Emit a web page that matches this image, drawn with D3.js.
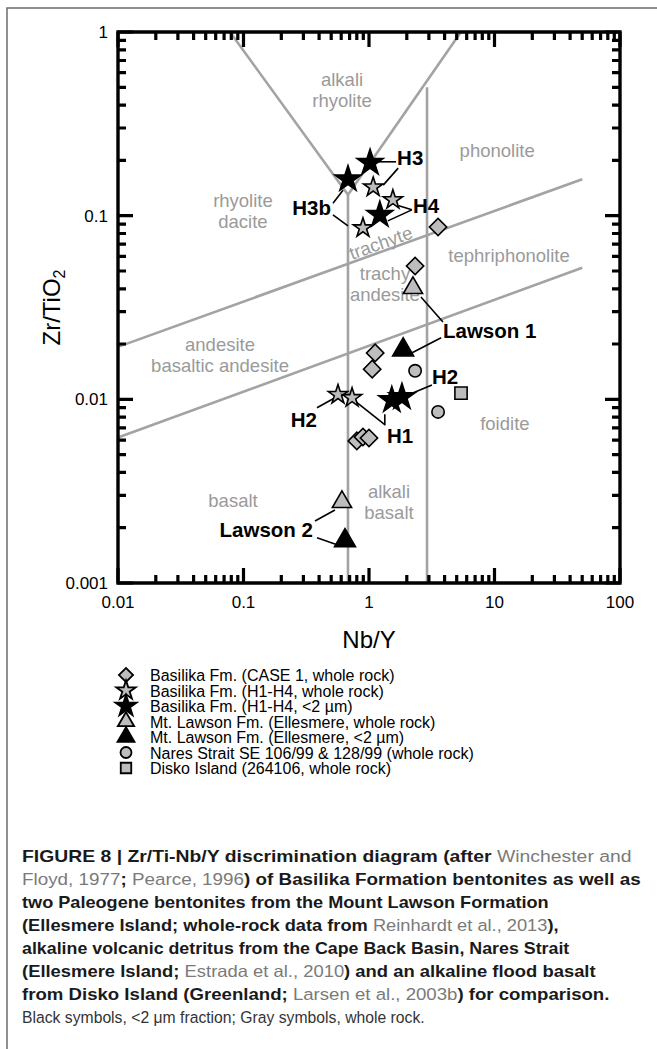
<!DOCTYPE html>
<html>
<head>
<meta charset="utf-8">
<script src="https://cdn.jsdelivr.net/npm/d3@7"></script>
<style>
  body { margin: 0; background: #fff; }
  svg { display: block; font-family: "Liberation Sans", Arial, sans-serif; }
</style>
</head>
<body>
<svg id="fig" width="657" height="1049"></svg>
<script>
// ---- data (Nb/Y, Zr/TiO2) ----
const caseNbY  = [3.55, 2.33, 1.12, 1.06, 0.80, 0.895, 1.0];
const caseZrTi = [0.0868, 0.0532, 0.0179, 0.0146, 0.00594, 0.00624, 0.00616];

const h14WholeId   = ["H3", "H4", "H3b", "H2", "H1"];
const h14WholeNbY  = [1.08, 1.55, 0.895, 0.566, 0.733];
const h14WholeZrTi = [0.143, 0.122, 0.0857, 0.0106, 0.0102];

const h14ClayId   = ["H3", "H3b", "H4", "H1", "H2"];
const h14ClayNbY  = [1.02, 0.68, 1.22, 1.52, 1.83];
const h14ClayZrTi = [0.194, 0.158, 0.101, 0.0099, 0.0103];

const lawsonWholeNbY  = [2.24, 0.609];
const lawsonWholeZrTi = [0.0404, 0.00276];
const lawsonClayNbY   = [1.87, 0.644];
const lawsonClayZrTi  = [0.0186, 0.0017];

const naresNbY  = [2.33, 3.55];
const naresZrTi = [0.0143, 0.00854];

const diskoNbY  = [5.41];
const diskoZrTi = [0.0108];

// field boundaries (Pearce 1996), pairs of [Nb/Y, Zr/TiO2]
const fieldLines = [
  [[0.078, 1], [0.68, 0.13]],
  [[5.4, 1], [0.68, 0.13]],
  [[0.68, 0.13], [0.68, 0.001]],
  [[2.9, 0.5], [2.9, 0.001]],
  [[0.01, 0.0193], [50, 0.158]],
  [[0.01, 0.0062], [50, 0.052]]
];

// field names, placed at [Nb/Y, Zr/TiO2] (first line baseline)
const fieldNames = [
  {t: ["alkali", "rhyolite"], nb: 0.61, zr: 0.51},
  {t: ["phonolite"], nb: 10.5, zr: 0.209},
  {t: ["rhyolite", "dacite"], nb: 0.099, zr: 0.1115},
  {t: ["trachy", "andesite"], nb: 1.34, zr: 0.0447},
  {t: ["tephriphonolite"], nb: 13.05, zr: 0.056},
  {t: ["andesite", "basaltic andesite"], nb: 0.065, zr: 0.01834},
  {t: ["foidite"], nb: 12.1, zr: 0.00681},
  {t: ["basalt"], nb: 0.0825, zr: 0.0026},
  {t: ["alkali", "basalt"], nb: 1.443, zr: 0.0029}
];
const trachyteAt = [1.29, 0.0659];

const xMajor = [0.01, 0.1, 1, 10, 100];
const xTickLabels = ["0.01", "0.1", "1", "10", "100"];
const yMajor = [0.001, 0.01, 0.1, 1];
const yTickLabels = ["0.001", "0.01", "0.1", "1"];

const legendLabels = [
  "Basilika Fm. (CASE 1, whole rock)",
  "Basilika Fm. (H1-H4, whole rock)",
  "Basilika Fm. (H1-H4, <2 \u00b5m)",
  "Mt. Lawson Fm. (Ellesmere, whole rock)",
  "Mt. Lawson Fm. (Ellesmere, <2 \u00b5m)",
  "Nares Strait SE 106/99 & 128/99 (whole rock)",
  "Disko Island (264106, whole rock)"
];

// caption: [text, kind] kind b = bold, r = reference, n = normal
const captionLines = [
  [["FIGURE 8 | Zr/Ti-Nb/Y discrimination diagram (after ", "b"], ["Winchester and", "r"]],
  [["Floyd, 1977", "r"], ["; ", "b"], ["Pearce, 1996", "r"], [") of Basilika Formation bentonites as well as", "b"]],
  [["two Paleogene bentonites from the Mount Lawson Formation", "b"]],
  [["(Ellesmere Island; whole-rock data from ", "b"], ["Reinhardt et al., 2013", "r"], ["),", "b"]],
  [["alkaline volcanic detritus from the Cape Back Basin, Nares Strait", "b"]],
  [["(Ellesmere Island; ", "b"], ["Estrada et al., 2010", "r"], [") and an alkaline flood basalt", "b"]],
  [["from Disko Island (Greenland; ", "b"], ["Larsen et al., 2003b", "r"], [") for comparison.", "b"]],
  [["Black symbols, <2 \u03bcm fraction; Gray symbols, whole rock.", "n"]]
];
const captionRight = [632, 641, 549, 559, 570, 596, 610, 425];

// ---- layout ----
const svg = d3.select("#fig");
const pLeft = 118, pRight = 620, pTop = 32, pBottom = 583;
const grey = "#a3a3a3", fillGrey = "#bdbdbd";

svg.append("rect").attr("width", 657).attr("height", 1049).attr("fill", "#fff");
// figure frame (top and left only)
svg.append("path").attr("d", "M7,1049V8H657").attr("fill", "none")
  .attr("stroke", "#6b6b6b").attr("stroke-width", 1.5);

const x = d3.scaleLog().domain([0.01, 100]).range([pLeft, pRight]);
const y = d3.scaleLog().domain([0.001, 1]).range([pBottom, pTop]);

// field boundaries
svg.append("g").selectAll("line").data(fieldLines).enter().append("line")
  .attr("x1", d => x(d[0][0])).attr("y1", d => y(d[0][1]))
  .attr("x2", d => x(d[1][0])).attr("y2", d => y(d[1][1]))
  .attr("stroke", grey).attr("stroke-width", 2.6);

// field names
const fn = svg.append("g").attr("fill", "#9a9a9a").style("font-size", "18.5px")
  .attr("text-anchor", "middle");
fieldNames.forEach(f => {
  const t = fn.append("text").attr("x", x(f.nb)).attr("y", y(f.zr));
  f.t.forEach((s, i) => t.append("tspan").attr("x", x(f.nb)).attr("dy", i ? 21 : 0).text(s));
});
// "trachyte" follows the upper line
const slope = (y(0.158) - y(0.0193)) / (x(50) - x(0.01));
fn.append("text")
  .attr("transform", "translate(" + x(trachyteAt[0]) + "," + y(trachyteAt[1]) + ") rotate(" + (Math.atan(slope) * 180 / Math.PI) + ")")
  .text("trachyte");

// annotation labels with leader lines, offsets in px from the sample point
function pt(nbArr, zrArr, i) { return [x(nbArr[i]), y(zrArr[i])]; }
const annotations = [
  {text: "H3", at: pt(h14ClayNbY, h14ClayZrTi, 0), dx: 27, dy: 2, anchor: "start",
    leaders: [[pt(h14ClayNbY, h14ClayZrTi, 0), 7, -1, 26, -1], [pt(h14WholeNbY, h14WholeZrTi, 0), 25, -19, 10, -2]]},
  {text: "H3b", at: pt(h14ClayNbY, h14ClayZrTi, 1), dx: -17, dy: 36, anchor: "end",
    leaders: [[pt(h14ClayNbY, h14ClayZrTi, 1), -15, 24, -5, 11], [pt(h14WholeNbY, h14WholeZrTi, 2), -30, -13, -15, -2]]},
  {text: "H4", at: pt(h14WholeNbY, h14WholeZrTi, 1), dx: 20, dy: 13, anchor: "start",
    leaders: [[pt(h14WholeNbY, h14WholeZrTi, 1), 19, 10, 6, 6], [pt(h14ClayNbY, h14ClayZrTi, 2), 32, -5, 8, 6]]},
  {text: "Lawson 1", at: pt(lawsonWholeNbY, lawsonWholeZrTi, 0), dx: 30, dy: 50, anchor: "start",
    leaders: [[pt(lawsonWholeNbY, lawsonWholeZrTi, 0), 30, 34, 8, 9], [pt(lawsonClayNbY, lawsonClayZrTi, 0), 38, -12, 9, 3]]},
  {text: "H2", at: pt(h14ClayNbY, h14ClayZrTi, 4), dx: 30, dy: -13, anchor: "start",
    leaders: [[pt(h14ClayNbY, h14ClayZrTi, 4), 30, -12, 6, -2]]},
  {text: "H2", at: pt(h14WholeNbY, h14WholeZrTi, 3), dx: -21, dy: 32, anchor: "end",
    leaders: [[pt(h14WholeNbY, h14WholeZrTi, 3), -21, 13, -3, 3]]},
  {text: "H1", at: pt(h14WholeNbY, h14WholeZrTi, 4), dx: 35, dy: 45, anchor: "start",
    leaders: [[pt(h14WholeNbY, h14WholeZrTi, 4), 33, 27, 4, 4], [pt(h14ClayNbY, h14ClayZrTi, 3), -7, 25, -7, 14]]},
  {text: "Lawson 2", at: pt(lawsonWholeNbY, lawsonWholeZrTi, 1), dx: -29, dy: 35, anchor: "end",
    leaders: [[pt(lawsonWholeNbY, lawsonWholeZrTi, 1), -27, 19, -7, 8], [pt(lawsonClayNbY, lawsonClayZrTi, 1), -28, -3, -8, 4]]}
];

const lead = svg.append("g").attr("stroke", "#000").attr("stroke-width", 1.6);
annotations.forEach(a => a.leaders.forEach(l => {
  lead.append("line").attr("x1", l[0][0] + l[1]).attr("y1", l[0][1] + l[2])
    .attr("x2", l[0][0] + l[3]).attr("y2", l[0][1] + l[4]);
}));

// ---- markers ----
const diamond = d3.symbol().type(d3.symbolSquare);
const star = d3.symbol().type(d3.symbolStar);
const tri = d3.symbol().type(d3.symbolTriangle);

function plotSet(nb, zr, gen, size, fill, rot) {
  svg.append("g").selectAll("path").data(nb.map((v, i) => [v, zr[i]])).enter().append("path")
    .attr("d", gen.size(size)())
    .attr("transform", d => "translate(" + x(d[0]) + "," + y(d[1]) + ")" + (rot ? " rotate(" + rot + ")" : ""))
    .attr("fill", fill).attr("stroke", "#000").attr("stroke-width", 1.6)
    .attr("stroke-linejoin", "miter");
}
plotSet(caseNbY, caseZrTi, diamond, 150, fillGrey, 45);
plotSet(naresNbY, naresZrTi, d3.symbol().type(d3.symbolCircle), 120, fillGrey);
plotSet(diskoNbY, diskoZrTi, d3.symbol().type(d3.symbolSquare), 150, fillGrey);
plotSet(lawsonWholeNbY, lawsonWholeZrTi, tri, 160, fillGrey);
plotSet(lawsonClayNbY, lawsonClayZrTi, tri, 190, "#000");
plotSet(h14WholeNbY, h14WholeZrTi, star, 115, fillGrey);
plotSet(h14ClayNbY, h14ClayZrTi, star, 210, "#000");

// labels
svg.append("g").style("font-size", "20.5px").style("font-weight", "bold")
  .selectAll("text").data(annotations).enter().append("text")
  .attr("x", d => d.at[0] + d.dx).attr("y", d => d.at[1] + d.dy)
  .attr("text-anchor", d => d.anchor).text(d => d.text);

// ---- axes: frame with inward major and minor ticks on all four sides ----
const xMinor = [], yMinor = [];
[0.01, 0.1, 1, 10].forEach(b => { for (let k = 2; k < 10; k++) xMinor.push(b * k); });
[0.001, 0.01, 0.1].forEach(b => { for (let k = 2; k < 10; k++) yMinor.push(b * k); });

const xTicks = xMajor.map(v => [v, 15]).concat(xMinor.map(v => [v, 8]));
const yTicks = yMajor.map(v => [v, 15]).concat(yMinor.map(v => [v, 8]));
let tickPath = "";
xTicks.forEach(d => {
  const px = x(d[0]).toFixed(1);
  tickPath += "M" + px + "," + pBottom + "V" + (pBottom - d[1]);
  tickPath += "M" + px + "," + pTop + "V" + (pTop + d[1]);
});
yTicks.forEach(d => {
  const py = y(d[0]).toFixed(1);
  tickPath += "M" + pLeft + "," + py + "H" + (pLeft + d[1]);
  tickPath += "M" + pRight + "," + py + "H" + (pRight - d[1]);
});
svg.append("path").attr("d", tickPath).attr("fill", "none")
  .style("stroke", "#000").style("stroke-width", "3.2px");
svg.append("path")
  .attr("d", "M" + pLeft + "," + pTop + "H" + pRight + "V" + pBottom + "H" + pLeft + "Z")
  .attr("fill", "none").style("stroke", "#000").style("stroke-width", "3.4px");

const tl = svg.append("g").style("font-size", "17px").attr("fill", "#000");
tl.selectAll(".xl").data(xMajor).enter().append("text")
  .attr("x", d => x(d)).attr("y", pBottom + 25).attr("text-anchor", "middle")
  .text((d, i) => xTickLabels[i]);
tl.selectAll(".yl").data(yMajor).enter().append("text")
  .attr("x", pLeft - 10).attr("y", d => y(d) + 6).attr("text-anchor", "end")
  .text((d, i) => yTickLabels[i]);

// axis titles
svg.append("text").attr("x", (pLeft + pRight) / 2).attr("y", 648).attr("text-anchor", "middle")
  .style("font-size", "24px").text("Nb/Y");
const yt = svg.append("text").attr("transform", "translate(60," + (pTop + pBottom) / 2 + ") rotate(-90)")
  .attr("text-anchor", "middle").style("font-size", "24px");
yt.append("tspan").text("Zr/TiO");
yt.append("tspan").attr("dy", 5).style("font-size", "16px").text("2");

// ---- legend ----
const legendSym = [
  {gen: diamond, size: 100, fill: fillGrey, rot: 45},
  {gen: star, size: 115, fill: fillGrey},
  {gen: star, size: 140, fill: "#000"},
  {gen: tri, size: 115, fill: fillGrey},
  {gen: tri, size: 125, fill: "#000"},
  {gen: d3.symbol().type(d3.symbolCircle), size: 95, fill: fillGrey},
  {gen: d3.symbol().type(d3.symbolSquare), size: 110, fill: fillGrey}
];
const lg = svg.append("g");
legendLabels.forEach((s, i) => {
  const cy = 675 + i * 15.5;
  const sym = legendSym[i];
  lg.append("path").attr("d", sym.gen.size(sym.size)())
    .attr("transform", "translate(126," + cy + ")" + (sym.rot ? " rotate(" + sym.rot + ")" : ""))
    .attr("fill", sym.fill).attr("stroke", "#000").attr("stroke-width", 1.8);
  lg.append("text").attr("x", 150).attr("y", cy + 6).style("font-size", "16px").text(s);
});

// ---- caption ----
const cap = svg.append("g").style("font-size", "16.5px");
captionLines.forEach((line, i) => {
  const t = cap.append("text").attr("x", 0).attr("y", 0);
  line.forEach(seg => {
    t.append("tspan").text(seg[0])
      .style("font-weight", seg[1] === "b" ? "bold" : "normal")
      .attr("fill", seg[1] === "r" ? "#7a7a7a" : (seg[1] === "b" ? "#1a1a1a" : "#333"));
  });
  const w = t.node().getComputedTextLength();
  const sx = (captionRight[i] - 22) / w;
  t.attr("transform", "translate(22," + (862 + i * 23) + ") scale(" + sx + ",1)");
});
</script>
</body>
</html>
